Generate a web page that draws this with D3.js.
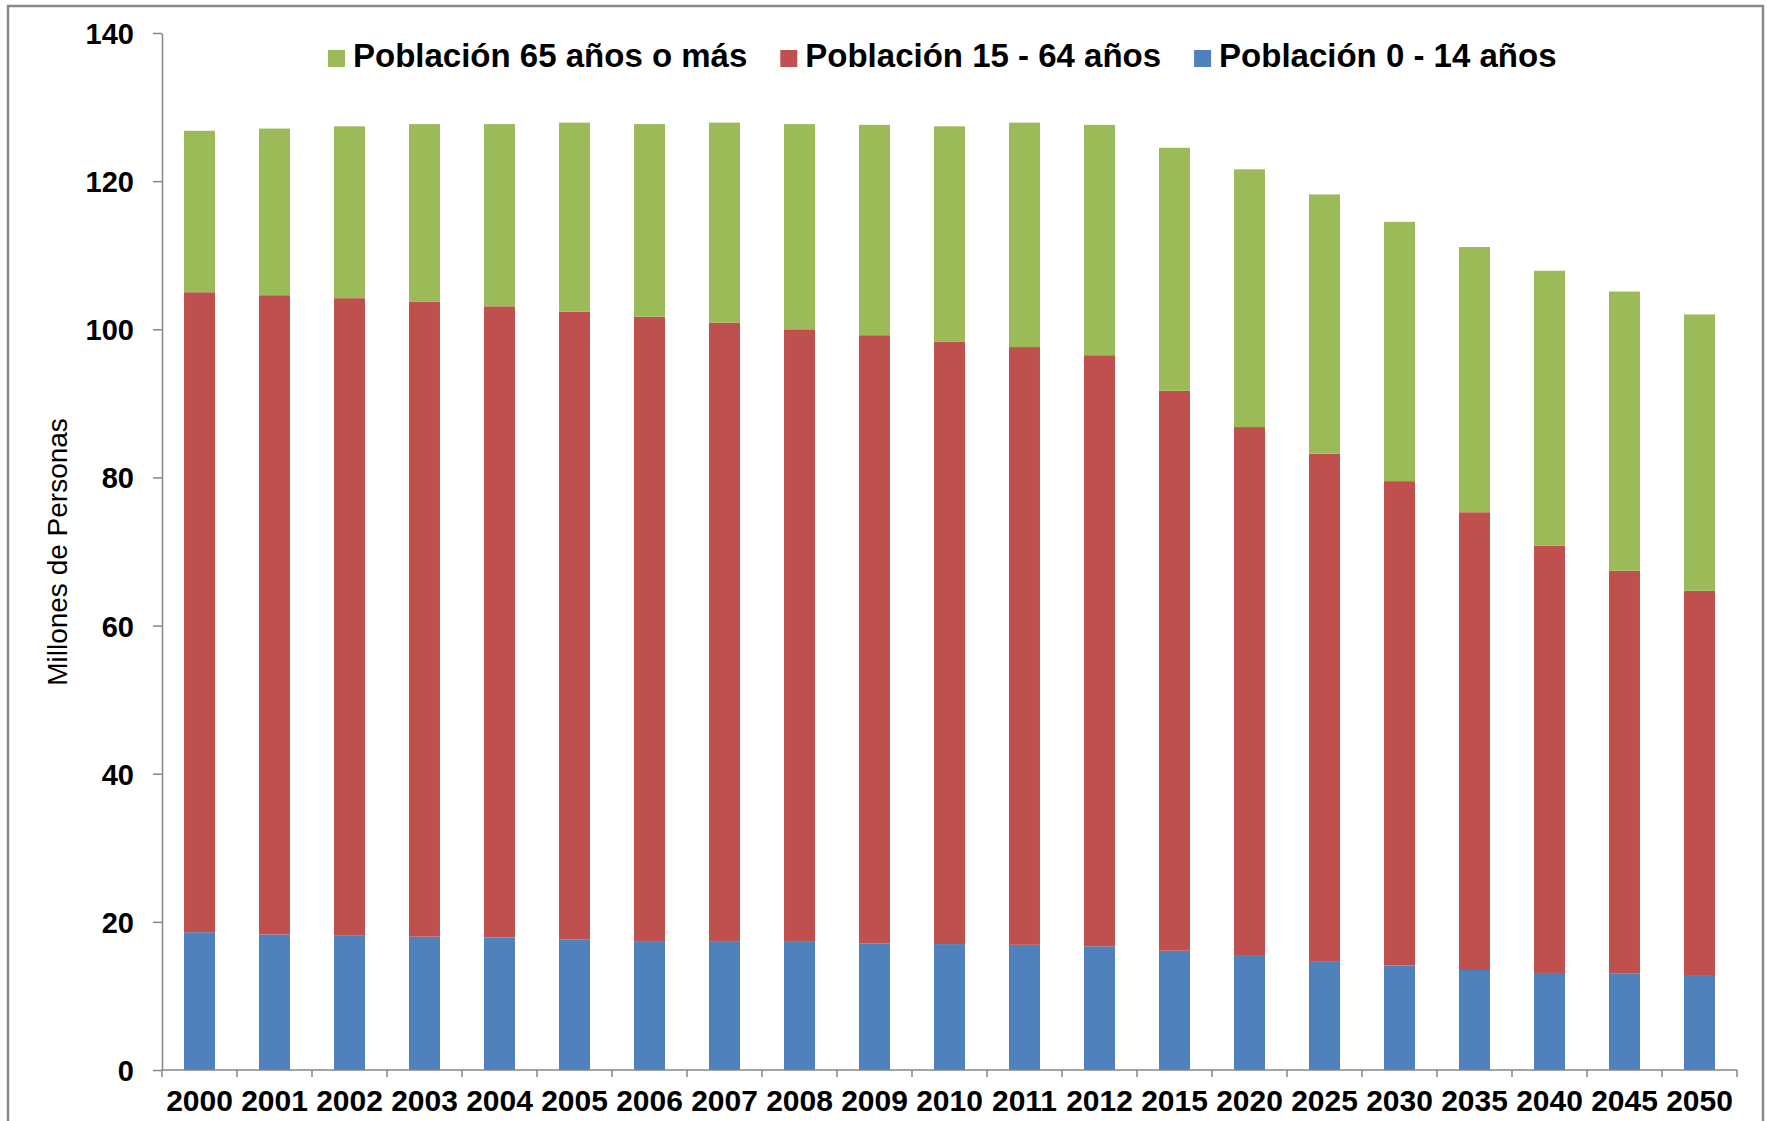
<!DOCTYPE html>
<html>
<head>
<meta charset="utf-8">
<script src="https://cdn.jsdelivr.net/npm/d3@7"></script>
<style>
  html, body { margin: 0; padding: 0; background: #fff; }
  svg { display: block; }
  text { font-family: "Liberation Sans", Arial, sans-serif; fill: #000; }
</style>
</head>
<body>
<svg id="chart" width="1767" height="1121"></svg>
<script>
const years = ["2000","2001","2002","2003","2004","2005","2006","2007","2008","2009","2010","2011","2012","2015","2020","2025","2030","2035","2040","2045","2050"];
const pop0_14  = [18.6,18.3,18.2,18.0,17.9,17.6,17.4,17.4,17.3,17.1,17.0,16.9,16.7,16.1,15.4,14.7,14.1,13.5,13.1,13.0,12.7];
const pop15_64 = [86.4,86.3,86.0,85.7,85.2,84.8,84.3,83.5,82.7,82.1,81.3,80.7,79.8,75.6,71.4,68.5,65.4,61.8,57.7,54.4,52.0];
const pop65    = [21.8,22.5,23.2,24.0,24.6,25.5,26.0,27.0,27.7,28.4,29.1,30.3,31.1,32.8,34.8,35.0,35.0,35.8,37.1,37.7,37.3];
const seriesKeys   = ["p0_14","p15_64","p65"];
const seriesLabels = {p65: "Población 65 años o más", p15_64: "Población 15 - 64 años", p0_14: "Población 0 - 14 años"};
const seriesColors = {p0_14: "#4F81BD", p15_64: "#C0504D", p65: "#9BBB59"};
const legendOrder  = ["p65","p15_64","p0_14"];
const yTicks = [0,20,40,60,80,100,120,140];
const yTitle = "Millones de Personas";

(function () {
const rows = years.map((yr, i) => ({year: yr, p0_14: pop0_14[i], p15_64: pop15_64[i], p65: pop65[i]}));

const svg = d3.select("#chart");
const W = 1767, H = 1121;
const mLeft = 162, mRight = 1737, mTop = 33, mBottom = 1070;
const axisColor = "#868686";

svg.append("rect").attr("x", 0).attr("y", 0).attr("width", W).attr("height", H).attr("fill", "#fff");
// outer frame
svg.append("rect").attr("x", 8).attr("y", 6).attr("width", 1755).attr("height", H + 20)
  .attr("fill", "none").attr("stroke", "#8a8a8a").attr("stroke-width", 2.5);

const x = d3.scaleBand().domain(years).range([mLeft, mRight]).paddingInner(0.587).paddingOuter(0.2935);
const y = d3.scaleLinear().domain([0, 140]).range([mBottom, mTop]);

const stacked = d3.stack().keys(seriesKeys)(rows);

svg.append("g").selectAll("g").data(stacked).join("g")
  .attr("fill", d => seriesColors[d.key])
  .selectAll("rect").data(d => d).join("rect")
  .attr("x", d => x(d.data.year))
  .attr("width", x.bandwidth())
  .attr("y", d => y(d[1]))
  .attr("height", d => y(d[0]) - y(d[1]));

// Y axis
const yAxis = svg.append("g").attr("transform", `translate(${mLeft},0)`)
  .call(d3.axisLeft(y).tickValues(yTicks).tickSize(9).tickPadding(19).tickSizeOuter(0));
yAxis.select(".domain").attr("stroke", axisColor).attr("stroke-width", 1.5);
yAxis.selectAll(".tick line").attr("stroke", axisColor).attr("stroke-width", 1.5);
yAxis.selectAll(".tick text").attr("font-size", 29).attr("font-weight", "bold")
  .attr("font-family", "'Liberation Sans', Arial, sans-serif").attr("fill", "#000").attr("dy", "0.36em");

// X axis: line + ticks at category boundaries
const xg = svg.append("g");
xg.append("line").attr("x1", mLeft).attr("x2", mRight).attr("y1", mBottom).attr("y2", mBottom)
  .attr("stroke", axisColor).attr("stroke-width", 1.5);
const boundaries = d3.range(years.length + 1).map(i => mLeft + i * x.step());
xg.selectAll("line.tk").data(boundaries).join("line").attr("class", "tk")
  .attr("x1", d => d).attr("x2", d => d).attr("y1", mBottom).attr("y2", mBottom + 7)
  .attr("stroke", axisColor).attr("stroke-width", 1.5);
xg.selectAll("text").data(years).join("text")
  .attr("x", d => x(d) + x.bandwidth() / 2).attr("y", 1111)
  .attr("text-anchor", "middle").attr("font-size", 30).attr("font-weight", "bold")
  .text(d => d);

// Y title
svg.append("text").attr("transform", "translate(67,552) rotate(-90)")
  .attr("text-anchor", "middle").attr("font-size", 28).text(yTitle);

// Legend
const lg = svg.append("g");
let lx = 328;
legendOrder.forEach(k => {
  lg.append("rect").attr("x", lx).attr("y", 50).attr("width", 17).attr("height", 17).attr("fill", seriesColors[k]);
  const t = lg.append("text").attr("x", lx + 25).attr("y", 66.5).attr("font-size", 33).attr("font-weight", "bold").text(seriesLabels[k]);
  lx = lx + 25 + t.node().getComputedTextLength() + 33;
});
})();
</script>
</body>
</html>
